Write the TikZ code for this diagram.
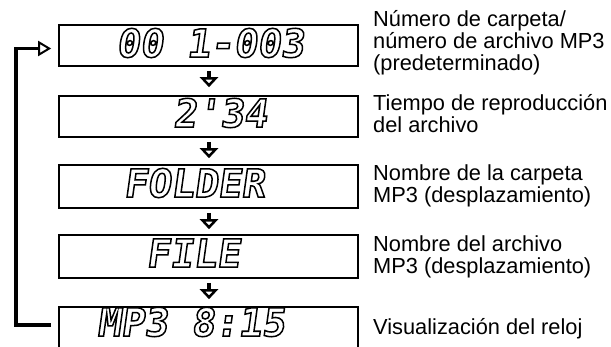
\documentclass[tikz,border=0pt]{standalone}
\usepackage{fontspec}
\setmainfont{Liberation Sans}
\newfontfamily\lcdfont[FakeSlant=0.14]{DejaVu Sans Mono Bold}
\usetikzlibrary{arrows.meta}
\newcommand\lcdoutline[1]{\special{pdf:literal direct 0 G 2 Tr 1.5 w}#1\special{pdf:literal direct 0 Tr}}
\tikzset{
  lcdbox/.style={draw=black, line width=1.6pt, rectangle, inner sep=0pt, minimum width=299pt},
  lcd/.style={font=\lcdfont\fontsize{39}{39}\selectfont, text=white, inner sep=0pt, anchor=center},
  label/.style={font=\fontsize{21.8}{22}\selectfont, align=left, anchor=base west, inner sep=0pt},
  downarr/.style={line width=3.2pt, -{Triangle[open, width=18pt, length=10pt, line width=2.8pt]}},
  loopline/.style={line width=3.6pt, line join=miter},
}
\begin{document}
\begin{tikzpicture}[x=1pt,y=1pt]
\useasboundingbox (0,0) rectangle (611,-346);
% boxes
\node[lcdbox, minimum height=41pt] (b1) at (208.5,-45.5) {};
\node[lcdbox, minimum height=41pt] (b2) at (208.5,-116.5) {};
\node[lcdbox, minimum height=43pt] (b3) at (208.5,-186.5) {};
\node[lcdbox, minimum height=43pt] (b4) at (208.5,-256.5) {};
\node[lcdbox, minimum height=42pt] (b5) at (208.5,-328) {};
% display texts
\node[lcd] (t1) at (210,-43) {\lcdoutline{00 1-003}};
\node[lcd] (t2) at (220,-113) {\lcdoutline{2'34}};
\node[lcd] (t3) at (194,-183) {\lcdoutline{FOLDER}};
\node[lcd] (t4) at (193,-253) {\lcdoutline{FILE}};
\node[lcd] (t5) at (191,-322) {\lcdoutline{MP3 8:15}};
% down arrows
\draw[downarr] ([xshift=0.5pt,yshift=-4pt]b1.south) -- ([xshift=0.5pt,yshift=8pt]b2.north);
\draw[downarr] ([xshift=0.5pt,yshift=-4pt]b2.south) -- ([xshift=0.5pt,yshift=6pt]b3.north);
\draw[downarr] ([xshift=0.5pt,yshift=-4pt]b3.south) -- ([xshift=0.5pt,yshift=5pt]b4.north);
\draw[downarr] ([xshift=0.5pt,yshift=-4pt]b4.south) -- ([xshift=0.5pt,yshift=7pt]b5.north);
% loop
\coordinate (lb) at ([xshift=-7pt,yshift=3pt]b5.west);
\coordinate (lt) at ([xshift=-7pt,yshift=-3pt]b1.west);
\draw[loopline] (lb) -| (16,0 |- lt) coordinate (corner);
\draw[loopline, -{Triangle[open, width=15pt, length=13pt, line width=2pt]}] ([xshift=-1.8pt]corner) -- (lt);
% labels (anchored at the baseline of the last line)
\node[label] (l1) at (373,-70) {Número de carpeta/\\número de archivo MP3\\(predeterminado)};
\node[label] (l2) at (373,-132) {Tiempo de reproducción\\del archivo};
\node[label] (l3) at (373,-202) {Nombre de la carpeta\\MP3 (desplazamiento)};
\node[label] (l4) at (373,-273) {Nombre del archivo\\MP3 (desplazamiento)};
\node[label] (l5) at (373,-334) {Visualización del reloj};
\end{tikzpicture}
\end{document}
